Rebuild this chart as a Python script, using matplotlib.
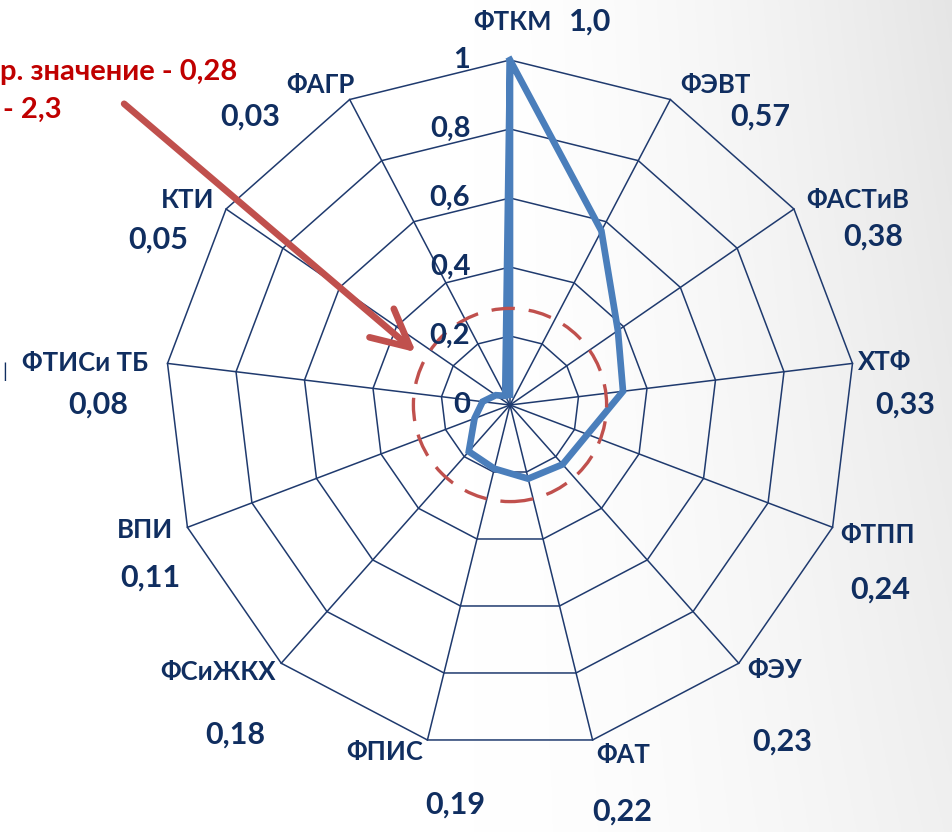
import numpy as np
import matplotlib.pyplot as plt
from matplotlib.patches import Circle, FancyArrowPatch

# Данные
faculties = ['ФТКМ', 'ФЭВТ', 'ФАСТиВ', 'ХТФ', 'ФТПП', 'ФЭУ', 'ФАТ',
             'ФПИС', 'ФСиЖКХ', 'ВПИ', 'ФТИСи ТБ', 'КТИ', 'ФАГР']
values = [1.0, 0.57, 0.38, 0.33, 0.24, 0.23, 0.22, 0.19, 0.18, 0.11, 0.08, 0.05, 0.03]
value_labels = ['1,0', '0,57', '0,38', '0,33', '0,24', '0,23', '0,22',
                '0,19', '0,18', '0,11', '0,08', '0,05', '0,03']
rings = [0.2, 0.4, 0.6, 0.8, 1.0]
ring_labels = ['0,2', '0,4', '0,6', '0,8', '1']
mean_value = 0.28

navy = '#102E60'
grid_col = '#1F3A6E'
line_col = '#4A7EBB'
red = '#C0504D'
text_red = '#C00000'

plt.rcParams['font.family'] = ['Lato', 'DejaVu Sans']

W, H = 952, 832
cx, cy, R = 510, 405, 345

fig = plt.figure(figsize=(W / 100, H / 100), dpi=100)

# фон с градиентом
bg = fig.add_axes([0, 0, 1, 1])
gx = np.linspace(0, 1, 300)
gy = np.linspace(0, 1, 300)
GX, GY = np.meshgrid(gx, gy)
shade = 1 - 0.10 * np.clip((GX - 0.5) / 0.5, 0, 1) ** 1.5 * (0.6 + 0.4 * GY)
bg.imshow(np.dstack([shade, shade, shade]), extent=[0, 1, 0, 1], aspect='auto', origin='lower')
bg.axis('off')

ax = fig.add_axes([0, 0, 1, 1])
ax.patch.set_alpha(0)
ax.set_xlim(-cx / R, (W - cx) / R)
ax.set_ylim(-(H - cy) / R, cy / R)
ax.axis('off')


def px(x, y):
    return (x - cx) / R, (cy - y) / R


n = len(faculties)
theta = np.arange(n) * 2 * np.pi / n
sx, sy = np.sin(theta), np.cos(theta)

# сетка
for r in rings:
    ax.plot(np.append(r * sx, r * sx[0]), np.append(r * sy, r * sy[0]),
            color=grid_col, lw=1.1, zorder=1)
for i in range(n):
    ax.plot([0, sx[i]], [0, sy[i]], color=grid_col, lw=1.1, zorder=1)

# данные
v = np.array(values)
ax.plot(np.append(v * sx, v * sx[0]), np.append(v * sy, v * sy[0]),
        color=line_col, lw=4.8, solid_joinstyle='miter', zorder=3)

# среднее значение
ax.add_patch(Circle((0, 0), mean_value, fill=False, ec=red, lw=2.4,
                    ls=(0, (7, 4.2)), zorder=4))

# подписи шкалы
for r, lab in zip(rings, ring_labels):
    ax.text(-0.115, r, lab, ha='right', va='center', fontsize=21,
            fontweight='bold', color=navy, zorder=5)
ax.text(-0.115, 0, '0', ha='right', va='center', fontsize=21,
        fontweight='bold', color=navy, zorder=5)

# подписи факультетов
name_pos = [(513, 22), (715, 85), (858, 200), (885, 362), (878, 535), (775, 670),
            (623, 755), (385, 752), (218, 672), (145, 530), (85, 363), (188, 200), (320, 85)]
val_pos = [(590, 22), (760, 117), (873, 237), (905, 405), (880, 590), (782, 742),
           (622, 812), (455, 805), (235, 735), (150, 578), (98, 405), (158, 240), (250, 117)]
for name, lab, p1, p2 in zip(faculties, value_labels, name_pos, val_pos):
    ax.text(*px(*p1), name, ha='center', va='center', fontsize=18.5,
            fontweight='bold', color=navy)
    ax.text(*px(*p2), lab, ha='center', va='center', fontsize=22,
            fontweight='bold', color=navy)

ax.text(*px(2, 372), '|', ha='left', va='center', fontsize=14, color=navy)

# аннотация
ax.text(*px(0, 72), 'р. значение - 0,28', ha='left', va='center', fontsize=21,
        fontweight='bold', color=text_red)
ax.text(*px(3, 110), '- 2,3', ha='left', va='center', fontsize=21,
        fontweight='bold', color=text_red)
arrow = FancyArrowPatch(px(122, 102), px(418, 354),
                        arrowstyle='->,head_length=0.9,head_width=0.45',
                        mutation_scale=30, lw=4.8, color=red, zorder=6)
ax.add_patch(arrow)

fig.savefig('out.png', dpi=100)
